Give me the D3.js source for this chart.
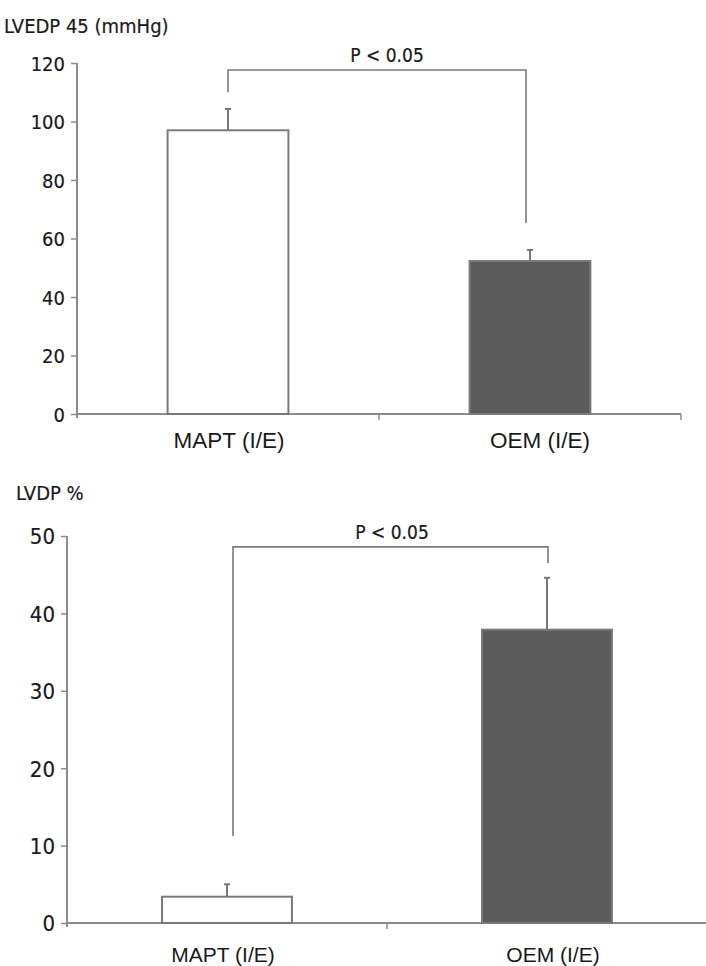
<!DOCTYPE html>
<html><head><meta charset="utf-8">
<script src="https://cdn.jsdelivr.net/npm/d3@7"></script>
<style>
html,body{margin:0;padding:0;background:#fff;}
svg{display:block;}
.cond{font-family:"Liberation Sans Narrow","DejaVu Sans Condensed","Roboto Condensed",sans-serif;stroke:#1a1a1a;stroke-width:0.2px;}
.cat{font-family:"Liberation Sans",Arial,sans-serif;}
</style>
</head><body>
<svg id="c" width="706" height="966"></svg>
<script>
// ---- data ----
const categories = ["MAPT (I/E)", "OEM (I/E)"];
const lvedpValues = [97, 52.3];
const lvedpErrors = [7.3, 3.8];
const lvedpTicks = [0, 20, 40, 60, 80, 100, 120];
const lvedpBracket = [110, 117.6, 65.3]; // left end, top, right end
const lvdpValues = [3.4, 37.9];
const lvdpErrors = [1.6, 6.7];
const lvdpTicks = [0, 10, 20, 30, 40, 50];
const lvdpBracket = [11.2, 48.6, 46.5];
const pLabel = "P < 0.05";
const fills = ["#ffffff", "#5c5c5c"];

const svg = d3.select("#c");
const axisColor = "#8c8c8c";
const textColor = "#1a1a1a";

function panel(opts) {
  const g = svg.append("g");
  const x = d3.scaleBand().domain(categories).range(opts.xRange).paddingInner(0).paddingOuter(0);
  const y = d3.scaleLinear().domain([0, opts.max]).range(opts.yRange);
  const bw = x.bandwidth() * opts.barFrac;

  // title
  g.append("text").attr("class", "cond").attr("x", opts.titleX).attr("y", opts.titleY)
    .attr("font-size", 20).attr("fill", textColor).text(opts.title);

  // y axis
  const ya = g.append("g").attr("transform", `translate(${opts.xRange[0]},0)`)
    .call(d3.axisLeft(y).tickValues(opts.ticks).tickSize(6).tickPadding(6).tickSizeOuter(0));
  ya.select(".domain").attr("stroke", axisColor).attr("stroke-width", 2)
    .attr("d", `M0,${opts.yRange[1]}V${opts.yRange[0] + 4}`);
  ya.selectAll(".tick line").attr("stroke", axisColor).attr("stroke-width", 1.5);
  ya.selectAll(".tick text").attr("class", "cond").attr("font-size", opts.tickFont)
    .attr("fill", textColor).attr("dy", "0.36em");

  // x axis line
  g.append("line").attr("x1", opts.xRange[0]).attr("x2", opts.axisEnd)
    .attr("y1", y(0)).attr("y2", y(0)).attr("stroke", axisColor).attr("stroke-width", 2);
  // boundary ticks
  const bounds = categories.slice(1).map(c => x(c)).concat([opts.xRange[1]]);
  g.selectAll(".bt").data(bounds).enter().append("line")
    .attr("x1", d => d).attr("x2", d => d).attr("y1", y(0)).attr("y2", y(0) + 6)
    .attr("stroke", axisColor).attr("stroke-width", 1.5);

  // bars
  categories.forEach((c, i) => {
    const cx = x(c) + x.bandwidth() / 2;
    const v = opts.values[i], e = opts.errors[i];
    // error bar
    g.append("line").attr("x1", cx).attr("x2", cx).attr("y1", y(v)).attr("y2", y(v + e))
      .attr("stroke", "#777").attr("stroke-width", 2);
    g.append("line").attr("x1", cx - 3).attr("x2", cx + 3).attr("y1", y(v + e)).attr("y2", y(v + e))
      .attr("stroke", "#777").attr("stroke-width", 2);
    g.append("rect").attr("x", cx - bw / 2).attr("y", y(v)).attr("width", bw).attr("height", y(0) - y(v))
      .attr("fill", fills[i]).attr("stroke", "#7a7a7a").attr("stroke-width", 2);
    // category label
    g.append("text").attr("class", "cat").attr("x", cx + opts.labelDx[i]).attr("y", opts.labelY)
      .attr("text-anchor", "middle").attr("font-size", opts.catFont).attr("fill", textColor).text(c);
  });

  // significance bracket
  const x0 = x(categories[0]) + x.bandwidth() / 2 + opts.brDx[0];
  const x1 = x(categories[1]) + x.bandwidth() / 2 + opts.brDx[1];
  g.append("path").attr("fill", "none").attr("stroke", "#7a7a7a").attr("stroke-width", 1.6)
    .attr("d", `M${x0},${y(opts.bracket[0])}V${y(opts.bracket[1])}H${x1}V${y(opts.bracket[2])}`);
  g.append("text").attr("class", "cond").attr("x", opts.pX).attr("y", y(opts.bracket[1]) - 8)
    .attr("text-anchor", "middle").attr("font-size", 19).attr("fill", textColor).text(pLabel);
}

panel({
  title: "LVEDP 45 (mmHg)", titleX: 4, titleY: 33,
  xRange: [77, 681], axisEnd: 681, yRange: [414, 63], max: 120,
  ticks: lvedpTicks, values: lvedpValues, errors: lvedpErrors, bracket: lvedpBracket,
  barFrac: 0.4, tickFont: 20, catFont: 22.5, labelY: 448, labelDx: [1, 10],
  brDx: [0, -4], pX: 387
});

panel({
  title: "LVDP %", titleX: 16, titleY: 500,
  xRange: [67, 707], axisEnd: 706, yRange: [923, 536], max: 50,
  ticks: lvdpTicks, values: lvdpValues, errors: lvdpErrors, bracket: lvdpBracket,
  barFrac: 0.406, tickFont: 22, catFont: 21, labelY: 962, labelDx: [-4, 6],
  brDx: [6, 1], pX: 392
});
</script>
</body></html>
